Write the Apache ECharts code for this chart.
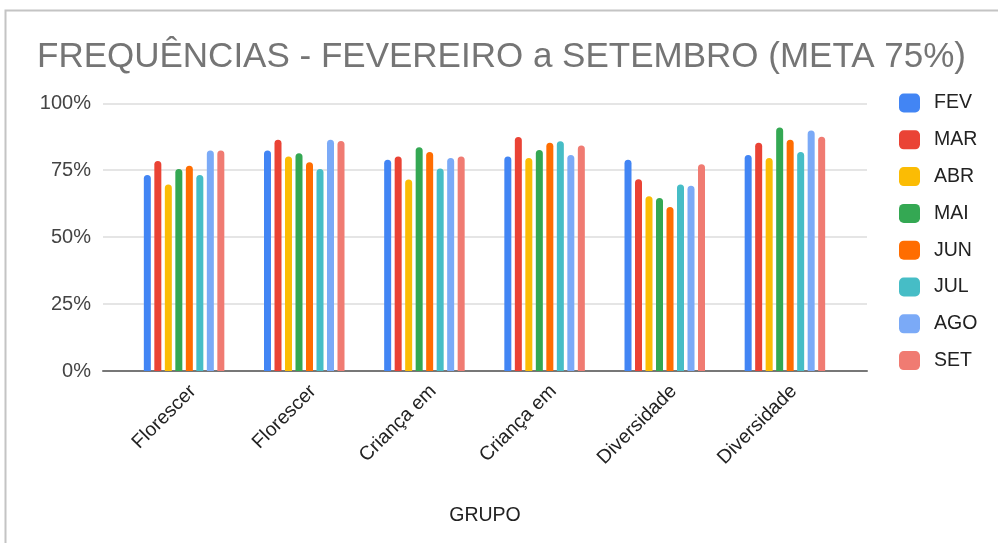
<!DOCTYPE html>
<html>
<head>
<meta charset="utf-8">
<script src="https://cdn.jsdelivr.net/npm/echarts@6/dist/echarts.min.js"></script>
<style>
html,body{margin:0;padding:0;background:#fff;}
#chart{width:998px;height:543px;}
</style>
</head>
<body>
<div id="chart"></div>
<script>
const categories = ['Florescer', 'Florescer', 'Criança em', 'Criança em', 'Diversidade', 'Diversidade'];
const months = ['FEV', 'MAR', 'ABR', 'MAI', 'JUN', 'JUL', 'AGO', 'SET'];
const FEV = [73.2, 82.4, 78.9, 80.1, 78.9, 80.7];
const MAR = [78.4, 86.4, 80.1, 87.4, 71.6, 85.3];
const ABR = [69.7, 80.1, 71.5, 79.6, 65.3, 79.6];
const MAI = [75.5, 81.3, 83.6, 82.6, 64.6, 91.0];
const JUN = [76.7, 78.0, 81.8, 85.3, 61.3, 86.4];
const JUL = [73.2, 75.5, 75.6, 85.8, 69.7, 81.8];
const AGO = [82.4, 86.4, 79.6, 80.7, 69.2, 89.8];
const SET = [82.4, 85.9, 80.1, 84.2, 77.2, 87.5];
const yTicks = [0, 25, 50, 75, 100];
const colors = ['#4285F4', '#EA4335', '#FBBC04', '#34A853', '#FF6D01', '#46BDC6', '#7BAAF7', '#F07B72'];
const seriesData = [FEV, MAR, ABR, MAI, JUN, JUL, AGO, SET];

const chart = echarts.init(document.getElementById('chart'));
const font = 'Liberation Sans, Arial, sans-serif';
chart.setOption({
  animation: false,
  textStyle: {fontFamily: font},
  title: {
    text: 'FREQUÊNCIAS - FEVEREIRO a SETEMBRO (META 75%)',
    left: 32, top: 35,
    textStyle: {fontFamily: font, fontSize: 35, fontWeight: 'normal', color: '#757575'}
  },
  graphic: [{
    type: 'rect', silent: true,
    shape: {x: 5.5, y: 10.5, width: 1100, height: 700},
    style: {fill: 'none', stroke: '#c4c4c4', lineWidth: 2}
  }],
  legend: {
    orient: 'vertical', left: 894, top: 88,
    icon: 'roundRect', itemWidth: 21, itemHeight: 19, itemGap: 16.8,
    textStyle: {fontFamily: font, fontSize: 19.5, lineHeight: 19, color: '#222', padding: [0, 0, 0, 9]},
    data: months
  },
  grid: [
    {left: 124, right: 153, top: 103.3, bottom: 172},
    {left: 103, right: 131, top: 103.3, bottom: 172}
  ],
  xAxis: [
    {type: 'category', gridIndex: 0, data: categories,
     axisLine: {show: false}, axisTick: {show: false},
     axisLabel: {rotate: 45, fontSize: 19.5, color: '#222', margin: 0, fontFamily: font, interval: 0,
                 verticalAlign: 'top', align: 'right', padding: [8.5, 6, 0, 0]}},
    {type: 'category', gridIndex: 1, data: categories,
     axisLine: {show: true, lineStyle: {color: '#777', width: 2}}, axisTick: {show: false},
     axisLabel: {show: false},
     name: 'GRUPO', nameLocation: 'middle', nameGap: 135,
     nameTextStyle: {fontSize: 19.5, color: '#222', fontFamily: font}}
  ],
  yAxis: [
    {type: 'value', gridIndex: 0, min: 0, max: 100, interval: 25, show: false},
    {type: 'value', gridIndex: 1, min: yTicks[0], max: yTicks[yTicks.length - 1], interval: 25,
     axisLine: {show: false}, axisTick: {show: false},
     axisLabel: {formatter: '{value}%', fontSize: 20, color: '#444', margin: 12, fontFamily: font},
     splitLine: {lineStyle: {color: '#dcdcdc', width: 1.5}}}
  ],
  series: months.map((m, i) => ({
    name: m, type: 'bar', xAxisIndex: 0, yAxisIndex: 0,
    data: seriesData[i], barWidth: 7, barGap: '50%',
    itemStyle: {color: colors[i], borderRadius: [3.5, 3.5, 0, 0]}
  }))
});
</script>
</body>
</html>
